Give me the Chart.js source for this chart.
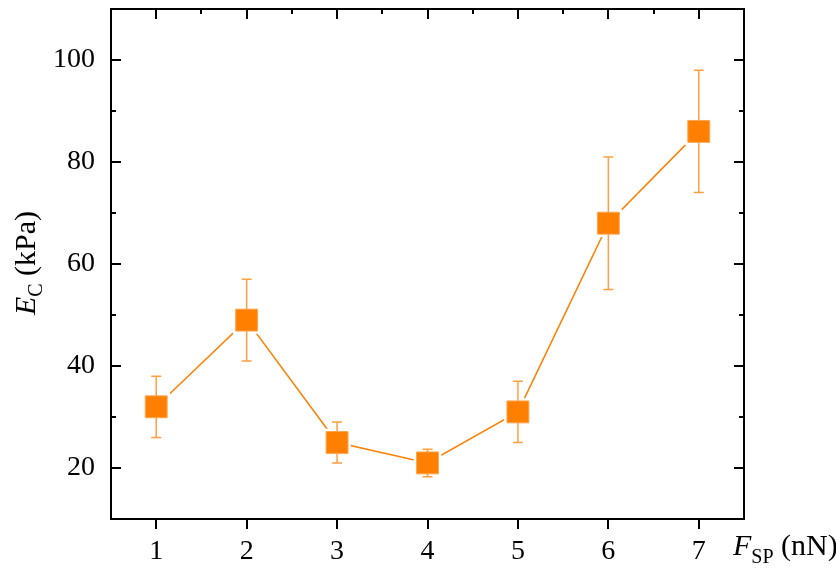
<!DOCTYPE html>
<html lang="en">
<head>
<meta charset="UTF-8">
<title>Ec vs Fsp</title>
<script src="https://cdn.jsdelivr.net/npm/chart.js"></script>
<style>
  body { margin: 0; background: #fff; }
  #chart { display: block; }
</style>
</head>
<body>
<canvas id="chart" width="836" height="571"></canvas>
<script>
// data
const forces = [1, 2, 3, 4, 5, 6, 7];          // F_SP (nN)
const modulus = [32, 49, 25, 21, 31, 68, 86];   // E_C (kPa)
const errHigh = [38, 57, 29, 23.7, 37, 81, 98];
const errLow = [26, 41, 21, 18.3, 25, 55, 74];

const xTicks = [1, 2, 3, 4, 5, 6, 7];
const xMinor = [1.5, 2.5, 3.5, 4.5, 5.5, 6.5];
const yTicks = [20, 40, 60, 80, 100];
const yMinor = [30, 50, 70, 90];

const FONT = '"Liberation Serif", "Times New Roman", serif';
const points = forces.map((f, i) => ({ x: f, y: modulus[i] }));

// error bars go between the white halo and the orange squares
const errorBars = {
    id: 'errorBars',
    afterDatasetDraw(chart, args) {
        if (args.index !== 1) return;
        const { ctx, scales: { x, y } } = chart;
        ctx.save();
        ctx.strokeStyle = '#ffa040';
        ctx.lineWidth = 1.5;
        ctx.beginPath();
        forces.forEach((f, i) => {
            const px = x.getPixelForValue(f);
            const hi = y.getPixelForValue(errHigh[i]);
            const lo = y.getPixelForValue(errLow[i]);
            ctx.moveTo(px, hi); ctx.lineTo(px, lo);
            ctx.moveTo(px - 5, hi); ctx.lineTo(px + 5, hi);
            ctx.moveTo(px - 5, lo); ctx.lineTo(px + 5, lo);
        });
        ctx.stroke();
        ctx.restore();
    }
};

// box frame, inward ticks and the axis titles
const frame = {
    id: 'frame',
    afterDraw(chart) {
        const { ctx, chartArea: a, scales: { x, y } } = chart;
        ctx.save();
        ctx.strokeStyle = '#000';
        ctx.lineWidth = 2;
        ctx.strokeRect(a.left, a.top, a.right - a.left, a.bottom - a.top);

        ctx.beginPath();
        const yMark = (v, len) => {
            const py = Math.round(y.getPixelForValue(v));
            ctx.moveTo(a.left, py); ctx.lineTo(a.left + len, py);
            ctx.moveTo(a.right, py); ctx.lineTo(a.right - len, py);
        };
        yTicks.forEach(v => yMark(v, 10));
        yMinor.forEach(v => yMark(v, 5));
        xTicks.forEach(v => {
            const px = Math.round(x.getPixelForValue(v));
            ctx.moveTo(px, a.top); ctx.lineTo(px, a.top + 10);
            ctx.moveTo(px, a.bottom); ctx.lineTo(px, a.bottom + 10);
        });
        xMinor.forEach(v => {
            const px = Math.round(x.getPixelForValue(v));
            ctx.moveTo(px, a.top); ctx.lineTo(px, a.top + 5);
        });
        ctx.stroke();

        ctx.fillStyle = '#000';
        ctx.textBaseline = 'alphabetic';
        ctx.textAlign = 'left';

        // y title, rotated
        ctx.save();
        ctx.translate(35, 263);
        ctx.rotate(-Math.PI / 2);
        const big = '30px ' + FONT, bigIt = 'italic 30px ' + FONT, small = '20px ' + FONT;
        ctx.font = bigIt; const wE = ctx.measureText('E').width;
        ctx.font = small; const wC = ctx.measureText('C').width;
        ctx.font = big; const wRest = ctx.measureText(' (kPa)').width;
        let cx = -(wE + wC + wRest) / 2;
        ctx.font = bigIt; ctx.fillText('E', cx, 0); cx += wE;
        ctx.font = small; ctx.fillText('C', cx, 7); cx += wC;
        ctx.font = big; ctx.fillText(' (kPa)', cx, 0);
        ctx.restore();

        // x title, at the right end of the tick labels
        let tx = 733;
        const ty = 555;
        ctx.font = bigIt; ctx.fillText('F', tx, ty); tx += ctx.measureText('F').width;
        ctx.font = small; ctx.fillText('SP', tx, ty + 8); tx += ctx.measureText('SP').width;
        ctx.font = big; ctx.fillText(' (nN)', tx, ty);
        ctx.restore();
    }
};

new Chart(document.getElementById('chart'), {
    type: 'scatter',
    data: {
        datasets: [
            {
                data: points,
                showLine: true,
                borderColor: '#ff7f00',
                borderWidth: 1.5,
                pointRadius: 0,
                order: 3
            },
            {
                data: points,
                showLine: false,
                pointStyle: 'rect',
                pointRadius: 19.5,
                backgroundColor: '#ffffff',
                borderWidth: 0,
                order: 2
            },
            {
                data: points,
                showLine: false,
                pointStyle: 'rect',
                pointRadius: 15.5,
                backgroundColor: '#ff8000',
                borderColor: '#ffa650',
                borderWidth: 1,
                order: 1
            }
        ]
    },
    options: {
        responsive: false,
        animation: false,
        layout: { autoPadding: false, padding: { top: 9, right: 92, left: 0, bottom: 0 } },
        plugins: { legend: { display: false }, tooltip: { enabled: false } },
        scales: {
            x: {
                type: 'linear',
                min: 0.5,
                max: 7.5,
                afterBuildTicks: s => { s.ticks = xTicks.map(v => ({ value: v })); },
                afterFit: s => { s.height = 52; s.paddingLeft = 0; s.paddingRight = 0; },
                grid: { display: false },
                border: { display: false },
                ticks: { color: '#000', font: { family: FONT, size: 28 }, padding: 8, maxRotation: 0 }
            },
            y: {
                min: 10,
                max: 110,
                afterBuildTicks: s => { s.ticks = yTicks.map(v => ({ value: v })); },
                afterFit: s => { s.width = 111; s.paddingTop = 0; s.paddingBottom = 0; },
                grid: { display: false },
                border: { display: false },
                ticks: { color: '#000', font: { family: FONT, size: 28 }, padding: 8 }
            }
        }
    },
    plugins: [errorBars, frame]
});
</script>
</body>
</html>
